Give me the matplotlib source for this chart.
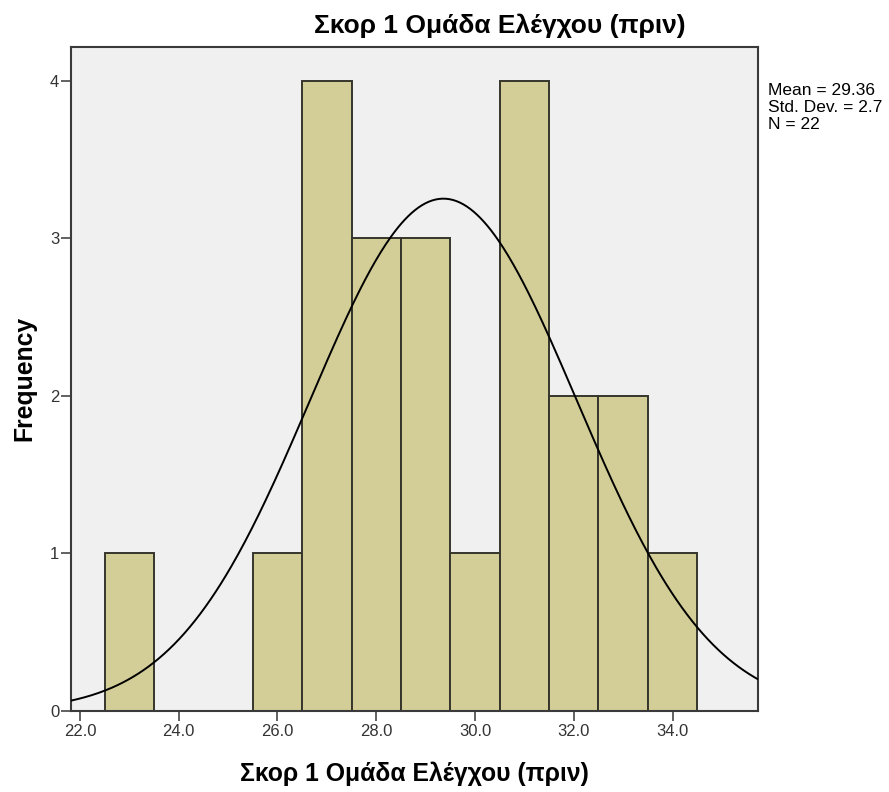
import numpy as np
import matplotlib
matplotlib.use("Agg")
import matplotlib.pyplot as plt
from matplotlib.ticker import FixedLocator

plt.rcParams["font.family"] = ["Liberation Sans", "DejaVu Sans"]

# Score bins (centres, width 1) and their frequencies
bin_centers = [23, 26, 27, 28, 29, 30, 31, 32, 33, 34]
frequencies = [1, 1, 4, 3, 3, 1, 4, 2, 2, 1]
mean_value = 29.36
std_value = 2.7
n_value = 22

title = "Σκορ 1 Ομάδα Ελέγχου (πριν)"
x_ticks = [22.0, 24.0, 26.0, 28.0, 30.0, 32.0, 34.0]
y_ticks = [0, 1, 2, 3, 4]

fig = plt.figure(figsize=(8.89, 7.92), dpi=100)
ax = fig.add_axes([71 / 889, 1 - 711 / 792, (757.5 - 71) / 889, (711 - 46.5) / 792])
ax.set_facecolor("#F0F0F0")

ax.bar(bin_centers, frequencies, width=1.0, color="#D3CE98",
       edgecolor="#35352C", linewidth=1.4, zorder=2)

xs = np.linspace(21.82, 35.72, 400)
pdf = n_value * 1.0 / (std_value * np.sqrt(2 * np.pi)) * np.exp(-0.5 * ((xs - mean_value) / std_value) ** 2)
ax.plot(xs, pdf, color="black", linewidth=1.4, zorder=3)

ax.set_xlim(21.82, 35.72)
ax.set_ylim(0, 4.216)
ax.xaxis.set_major_locator(FixedLocator(x_ticks))
ax.set_xticklabels([f"{t:.1f}" for t in x_ticks])
ax.yaxis.set_major_locator(FixedLocator(y_ticks))
ax.set_yticklabels([str(t) for t in y_ticks])

for s in ax.spines.values():
    s.set_color("#3A3A3A")
    s.set_linewidth(1.5)

ax.tick_params(axis="both", direction="out", length=7.5, width=1.3,
               color="#555555", labelcolor="#333333", labelsize=12)
ax.tick_params(axis="x", pad=2)
ax.tick_params(axis="y", pad=1)

ax.set_xlabel(title, fontsize=17.8, fontweight="bold", labelpad=16)
ax.set_ylabel("Frequency", fontsize=17.8, fontweight="bold", labelpad=10)
fig.text(500 / 889, 1 - 26 / 792, title, fontsize=19, fontweight="bold",
         ha="center", va="center")

fig.text(768 / 889, 1 - 83 / 792,
         f"Mean = {mean_value:.2f}\nStd. Dev. = {std_value}\nN = {n_value}",
         fontsize=12.5, ha="left", va="top", linespacing=1.15)

fig.savefig("out.png", dpi=100)
